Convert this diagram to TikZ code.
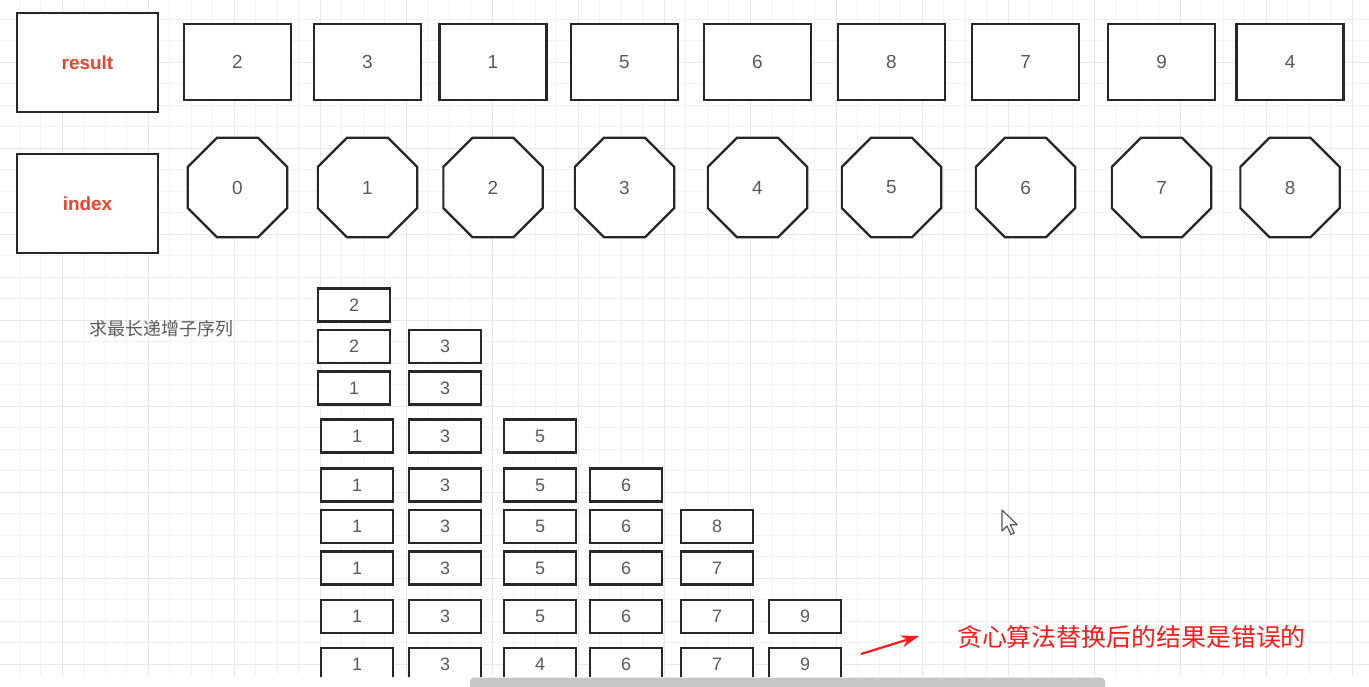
\documentclass[tikz,border=0pt]{standalone}
\usepackage{fontspec}
\setmainfont{Liberation Sans}
\newfontfamily\cjk{Noto Sans CJK SC}
\usepackage{tikz}
\usetikzlibrary{positioning,shapes.geometric,arrows.meta}

\definecolor{gridmin}{HTML}{F3F3F3}
\definecolor{gridmaj}{HTML}{E8E8E8}
\definecolor{labelred}{HTML}{E8452C}
\definecolor{notered}{HTML}{FF1A1A}
\definecolor{digitgray}{HTML}{5A5A5A}
\definecolor{boxline}{HTML}{262626}

\begin{document}
\begin{tikzpicture}[x=1bp, y=-1bp,
    headbox/.style={rectangle, draw=boxline, line width=2.2, fill=white, minimum width=141bp, minimum height=99bp, text=labelred, font=\fontsize{19}{22}\selectfont\bfseries},
    valbox/.style={rectangle, draw=boxline, line width=2.2, fill=white, minimum width=107bp, minimum height=76bp, text=digitgray, font=\fontsize{19}{22}\selectfont},
    idxoct/.style={regular polygon, regular polygon sides=8, draw=boxline, line width=2.2, fill=white, minimum size=107.5bp, inner sep=0pt, text=digitgray, font=\fontsize{19}{22}\selectfont},
    cell/.style={rectangle, draw=boxline, line width=2.2, fill=white, minimum width=72bp, minimum height=33bp, inner sep=0pt, text=digitgray, font=\fontsize{18}{20}\selectfont},
    arrow/.style={-{Stealth[length=18bp, width=12bp]}, line width=2.2bp, draw=notered}
]
\useasboundingbox (0,0) rectangle (1369,686);
\fill[white] (0,0) rectangle (1369,686);

\begin{scope}
\clip (0,0) rectangle (1369,676);

% Grid paper
\foreach \gx in {19,40.5,...,1369} \draw[gridmin, line width=1] (\gx,0) -- (\gx,676);
\foreach \gy in {19,40.5,...,676} \draw[gridmin, line width=1] (0,\gy) -- (1369,\gy);
\foreach \gx in {62,148,...,1369} \draw[gridmaj, line width=1] (\gx,0) -- (\gx,676);
\foreach \gy in {62,148,...,676} \draw[gridmaj, line width=1] (0,\gy) -- (1369,\gy);

% Row headers
\node[headbox] (result) at (87.5,62.5) {result};
\node[headbox] (index) at (87.5,203.5) {index};

% Values and their indices
\foreach \x/\v [count=\i from 0] in {237.5/2,367.5/3,493/1,624.5/5,757.5/6,891.5/8,1025.5/7,1161.5/9,1290/4} {
    \node[valbox] (res\i) at (\x,62) {\v};
    \node[idxoct] (idx\i) at (\x,187.5) {\i};
}

% Title
\node[font=\cjk\fontsize{18}{20}\selectfont, text=digitgray] (title) at (161.5,329) {求最长递增子序列};

% Tails after each step
\foreach \x/\v [count=\c] in {354/2} \node[cell] (a\c) at (\x,305) {\v};
\foreach \x/\v [count=\c] in {354/2,445/3} \node[cell] (b\c) at (\x,346.5) {\v};
\foreach \x/\v [count=\c] in {354/1,445/3} \node[cell] (c\c) at (\x,388) {\v};
\foreach \x/\v [count=\c] in {357/1,445/3,540/5} \node[cell] (d\c) at (\x,436) {\v};
\foreach \x/\v [count=\c] in {357/1,445/3,540/5,626/6} \node[cell] (e\c) at (\x,485) {\v};
\foreach \x/\v [count=\c] in {357/1,445/3,540/5,626/6,717/8} \node[cell] (f\c) at (\x,526.5) {\v};
\foreach \x/\v [count=\c] in {357/1,445/3,540/5,626/6,717/7} \node[cell] (g\c) at (\x,568) {\v};
\foreach \x/\v [count=\c] in {357/1,445/3,540/5,626/6,717/7,805/9} \node[cell] (h\c) at (\x,616.5) {\v};
\foreach \x/\v [count=\c] in {357/1,445/3,540/4,626/6,717/7,805/9} \node[cell] (k\c) at (\x,664.5) {\v};

% Note with arrow
\node[font=\cjk\fontsize{25}{28}\selectfont, text=notered] (note) at (1131.5,637) {贪心算法替换后的结果是错误的};
\coordinate (arrtail) at (861,654);
\coordinate (arrtip) at (919,636);
\draw[arrow] (arrtail) -- (arrtip);

% Mouse pointer
\draw[fill=white, draw=gray!70!black, line width=1.2, line join=round] (1002,510) -- ++(0,21) -- ++(5,-5) -- ++(4,8.5) -- ++(3.2,-1.6) -- ++(-4,-8.2) -- ++(7,0) -- cycle;
\end{scope}

% Scroll bar
\fill[gray!45, rounded corners=4] (470,677.5) rectangle (1105,692);
\end{tikzpicture}
\end{document}
